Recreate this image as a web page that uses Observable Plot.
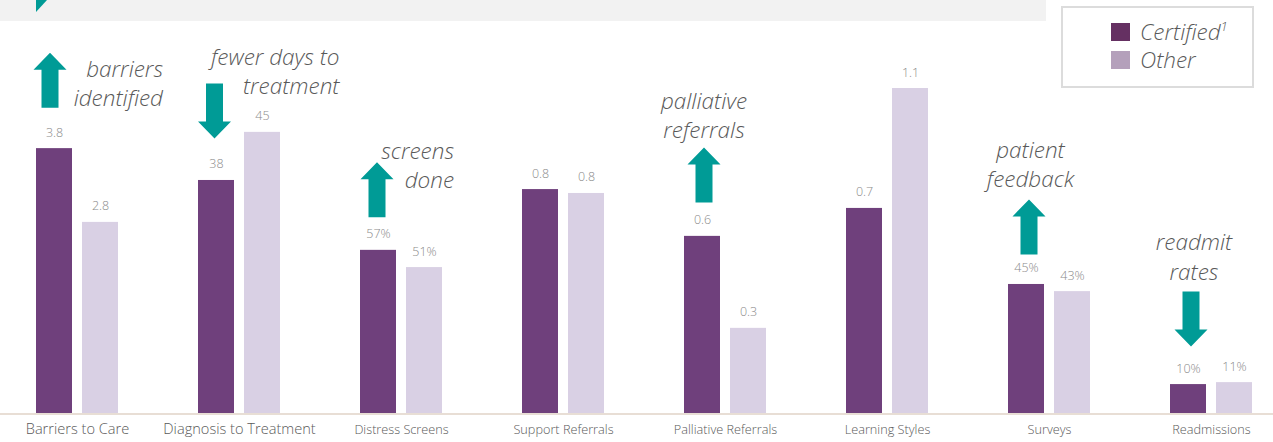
<!DOCTYPE html>
<html>
<head>
<meta charset="utf-8">
<script src="https://cdn.jsdelivr.net/npm/d3@7"></script>
<script src="https://cdn.jsdelivr.net/npm/@observablehq/plot@0.6"></script>
<style>
  html, body { margin: 0; padding: 0; background: #fff; }
  #wrap { position: relative; width: 1273px; height: 442px; overflow: hidden; font-family: "Open Sans", "Noto Sans", sans-serif; }
  #band { position: absolute; left: 0; top: 0; width: 1046px; height: 21px; background: #f2f2f2; }
  #corner { position: absolute; left: 0; top: 0; }
  #legend { position: absolute; left: 1061px; top: 6px; width: 189px; height: 78px; border: 2px solid #dcdcdc; background: #fff; }
  .lg-item { position: absolute; left: 48px; height: 24px; display: flex; align-items: center; }
  .lg-sw { width: 19px; height: 18px; margin-right: 10px; flex: none; }
  .lg-tx { font-style: italic; font-weight: 300; font-size: 22.5px; color: #595959; line-height: 24px; white-space: nowrap; }
  .lg-tx sup { font-size: 13px; line-height: 0; vertical-align: 9px; }
  #chart { position: absolute; left: 0; top: 0; }
</style>
</head>
<body>
<div id="wrap">
  <div id="band"></div>
  <svg id="corner" width="60" height="20"><polygon points="36,0 47,0 36,12" fill="#009b96"></polygon></svg>
  <div id="chart"></div>
  <div id="legend"></div>
</div>
<script>
// ---- data ----
const categories = ["Barriers to Care", "Diagnosis to Treatment", "Distress Screens", "Support Referrals",
                    "Palliative Referrals", "Learning Styles", "Surveys", "Readmissions"];
const series = ["Certified", "Other"];
// bar heights as drawn (relative, tallest bar = 100); each group is drawn on its own scale
const certifiedHeights = [81.5, 71.7, 50.2, 68.9, 54.5, 63.1, 39.7, 8.9];
const otherHeights     = [58.8, 86.5, 44.9, 67.7, 26.2, 100, 37.5, 9.5];
// value labels printed above bars
const certifiedLabels = ["3.8", "38", "57%", "0.8", "0.6", "0.7", "45%", "10%"];
const otherLabels     = ["2.8", "45", "51%", "0.8", "0.3", "1.1", "43%", "11%"];
// annotations
const annotationCategories = ["Barriers to Care", "Diagnosis to Treatment", "Distress Screens",
                              "Palliative Referrals", "Surveys", "Readmissions"];
const annotationDirections = ["up", "down", "up", "up", "up", "down"];
const annotationTexts = ["barriers\nidentified", "fewer days to\ntreatment", "screens\ndone",
                         "palliative\nreferrals", "patient\nfeedback", "readmit\nrates"];

// ---- styling / layout ----
const certColor = "#6f407c", otherColor = "#d9d0e4";
const legendColors = ["#653062", "#b4a0bb"];
const teal = "#009b96";
const barOffset = 23;
// annotation placement relative to the top of the Certified bar
const annLayout = [
  {arrowDx: -4.5, gap: 41, anchor: "end",    textDx: 113, textDy: -66.5},
  {arrowDx: -2,   gap: 42, anchor: "end",    textDx: 125, textDy: -110},
  {arrowDx: -1.5, gap: 33, anchor: "end",    textDx: 77,  textDy: -86},
  {arrowDx: 1.5,  gap: 34, anchor: "middle", textDx: 0,   textDy: -122},
  {arrowDx: 2.5,  gap: 30, anchor: "middle", textDx: 1.5, textDy: -121},
  {arrowDx: 2.5,  gap: 38, anchor: "middle", textDx: 3,   textDy: -129}
];

const rows = categories.flatMap((c, i) => [
  {category: c, series: series[0], h: certifiedHeights[i], label: certifiedLabels[i]},
  {category: c, series: series[1], h: otherHeights[i], label: otherLabels[i]}
]);
const cert = rows.filter(d => d.series === series[0]);
const other = rows.filter(d => d.series === series[1]);

const blockArrow = {
  draw(ctx, l) {
    const shaft = 8.5, head = 16.5, hh = 17;
    ctx.moveTo(-shaft, 0);
    ctx.lineTo(-shaft, -(l - hh));
    ctx.lineTo(-head, -(l - hh));
    ctx.lineTo(0, -l);
    ctx.lineTo(head, -(l - hh));
    ctx.lineTo(shaft, -(l - hh));
    ctx.lineTo(shaft, 0);
    ctx.closePath();
  }
};

const annMarks = annotationCategories.flatMap((c, k) => {
  const row = cert.filter(d => d.category === c);
  const L = annLayout[k];
  const up = annotationDirections[k] === "up";
  return [
    Plot.vector(row, {
      x: "category", y: "h", dx: -barOffset + L.arrowDx, dy: -L.gap,
      length: 55, rotate: up ? 0 : 180, anchor: up ? "start" : "end",
      shape: blockArrow, fill: teal, stroke: "none"
    }),
    Plot.text(row, {
      x: "category", y: "h", text: () => annotationTexts[k],
      dx: -barOffset + L.arrowDx + L.textDx, dy: L.textDy,
      textAnchor: L.anchor, lineAnchor: "middle", lineHeight: 1.3,
      fontSize: 22.5, fontStyle: "italic", fontWeight: 300, fill: "#595959"
    })
  ];
});

const chart = Plot.plot({
  width: 1273, height: 442,
  marginTop: 0, marginRight: 0, marginBottom: 29, marginLeft: 0,
  style: {fontFamily: '"Open Sans", "Noto Sans", sans-serif', background: "transparent", overflow: "visible"},
  x: {domain: categories, range: [-7, 1295], paddingInner: 0.778, paddingOuter: 0.389, axis: null},
  y: {domain: [0, 100], range: [413, 88], axis: null},
  marks: [
    Plot.barY(cert, {x: "category", y: "h", fill: certColor, dx: -barOffset}),
    Plot.barY(other, {x: "category", y: "h", fill: otherColor, dx: barOffset}),
    Plot.ruleY([0], {stroke: "#e8ded5", strokeWidth: 2, dy: 0.5}),
    Plot.text(cert, {x: "category", y: "h", text: "label", dx: -barOffset, dy: -16, fill: "#8a8a8a", fontSize: 12.5, fontWeight: 300}),
    Plot.text(other, {x: "category", y: "h", text: "label", dx: barOffset, dy: -16, fill: "#8a8a8a", fontSize: 12.5, fontWeight: 300}),
    Plot.text(categories, {x: d => d, frameAnchor: "bottom", dy: 20, text: d => d,
      fontSize: (d, i) => i < 2 ? 14.6 : 12.7, fontWeight: 300, fill: "#595959"}),
    ...annMarks
  ]
});
document.getElementById("chart").appendChild(chart);

// legend
const legend = document.getElementById("legend");
series.forEach((s, i) => {
  const item = document.createElement("div");
  item.className = "lg-item";
  item.style.top = (12 + i * 28) + "px";
  const sw = document.createElement("div");
  sw.className = "lg-sw";
  sw.style.background = legendColors[i];
  const tx = document.createElement("div");
  tx.className = "lg-tx";
  tx.innerHTML = i === 0 ? s + "<sup>1</sup>" : s;
  item.appendChild(sw); item.appendChild(tx);
  legend.appendChild(item);
});
</script>
</body>
</html>
